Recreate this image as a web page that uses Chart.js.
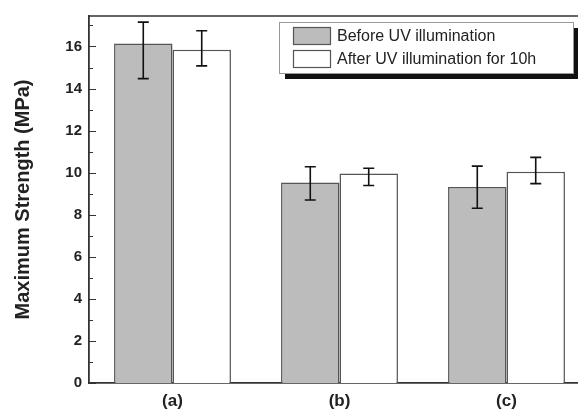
<!DOCTYPE html>
<html><head><meta charset="utf-8">
<script src="https://cdn.jsdelivr.net/npm/chart.js@4"></script>
<style>html,body{margin:0;padding:0;overflow:hidden;background:#fff}#wrap{width:578px;height:412px;overflow:hidden}</style>
</head><body><div id="wrap"><canvas id="c" width="600" height="412" style="width:600px;height:412px"></canvas></div>
<script>
const categories = ['(a)', '(b)', '(c)'];
const seriesNames = ['Before UV illumination', 'After UV illumination for 10h'];
const beforeUV = [16.14, 9.53, 9.32];
const afterUV = [15.85, 9.96, 10.04];
const beforeErrHigh = [17.16, 10.28, 10.31];
const beforeErrLow = [14.47, 8.70, 8.31];
const afterErrHigh = [16.75, 10.21, 10.73];
const afterErrLow = [15.08, 9.39, 9.48];
const yTickValues = [0, 2, 4, 6, 8, 10, 12, 14, 16];
const yMinorValues = [1, 3, 5, 7, 9, 11, 13, 15, 17];
const yTitle = 'Maximum Strength (MPa)';

const FONT = '"Liberation Sans", Arial, sans-serif';
const errHigh = [beforeErrHigh, afterErrHigh];
const errLow = [beforeErrLow, afterErrLow];

const framePlugin = {
  id: 'frame',
  afterDraw(chart) {
    const ctx = chart.ctx, a = chart.chartArea, y = chart.scales.y;
    ctx.save();
    ctx.strokeStyle = '#333';
    ctx.lineWidth = 1.5;
    ctx.beginPath();
    ctx.moveTo(a.left, a.top); ctx.lineTo(a.right, a.top);
    ctx.lineTo(a.right, a.bottom);
    ctx.stroke();
    ctx.lineWidth = 1.2;
    ctx.beginPath();
    yTickValues.forEach(v => { const p = Math.round(y.getPixelForValue(v)) + 0.5; ctx.moveTo(a.left, p); ctx.lineTo(a.left + 7, p); });
    yMinorValues.forEach(v => { const p = Math.round(y.getPixelForValue(v)) + 0.5; ctx.moveTo(a.left, p); ctx.lineTo(a.left + 4, p); });
    ctx.stroke();
    ctx.restore();
  }
};

const errorPlugin = {
  id: 'errorbars',
  afterDatasetsDraw(chart) {
    const ctx = chart.ctx, y = chart.scales.y;
    ctx.save();
    ctx.strokeStyle = '#111';
    ctx.lineWidth = 1.6;
    chart.data.datasets.forEach((ds, i) => {
      const meta = chart.getDatasetMeta(i);
      meta.data.forEach((bar, j) => {
        const x = bar.x;
        const yh = y.getPixelForValue(errHigh[i][j]);
        const yl = y.getPixelForValue(errLow[i][j]);
        ctx.beginPath();
        ctx.moveTo(x, yh); ctx.lineTo(x, yl);
        ctx.moveTo(x - 5.5, yh); ctx.lineTo(x + 5.5, yh);
        ctx.moveTo(x - 5.5, yl); ctx.lineTo(x + 5.5, yl);
        ctx.stroke();
      });
    });
    ctx.restore();
  }
};

const legendPlugin = {
  id: 'boxlegend',
  afterDraw(chart) {
    const ctx = chart.ctx;
    const bx = 279, by = 22, bw = 294, bh = 51;
    ctx.save();
    ctx.fillStyle = '#111';
    ctx.fillRect(bx + 6, by + 6, bw, bh);
    ctx.fillStyle = '#fff';
    ctx.fillRect(bx, by, bw, bh);
    ctx.strokeStyle = '#999';
    ctx.lineWidth = 1;
    ctx.strokeRect(bx + 0.5, by + 0.5, bw, bh);
    ctx.font = '16px ' + FONT;
    ctx.textBaseline = 'middle';
    chart.data.datasets.forEach((ds, i) => {
      const sy = 27 + i * 23;
      ctx.fillStyle = ds.backgroundColor;
      ctx.fillRect(293, sy, 38, 18);
      ctx.strokeStyle = '#555';
      ctx.lineWidth = 1.2;
      ctx.strokeRect(293.5, sy + 0.5, 37, 17);
      ctx.fillStyle = '#222';
      ctx.fillText(ds.label, 337, sy + 10);
    });
    ctx.restore();
  }
};

new Chart(document.getElementById('c'), {
  type: 'bar',
  data: {
    labels: categories,
    datasets: [
      { label: seriesNames[0], data: beforeUV, backgroundColor: '#bcbcbc', borderColor: '#555', borderWidth: 1.5 },
      { label: seriesNames[1], data: afterUV, backgroundColor: '#ffffff', borderColor: '#555', borderWidth: 1.5 }
    ]
  },
  options: {
    responsive: false,
    devicePixelRatio: 1,
    animation: false,
    layout: { padding: { top: 11, right: 10, left: 0, bottom: 0 } },
    datasets: { bar: { categoryPercentage: 0.7, barPercentage: 1.0 } },
    plugins: { legend: { display: false }, tooltip: { enabled: false } },
    scales: {
      x: {
        grid: { display: false, drawTicks: false },
        border: { display: true, color: '#333', width: 1.8 },
        ticks: { color: '#222', font: { family: FONT, size: 17, weight: 'bold' }, padding: 8 },
        afterFit(s) { s.height = 29; }
      },
      y: {
        min: 0, max: 17.45,
        grid: { display: false, drawTicks: false },
        border: { display: true, color: '#333', width: 1.8 },
        afterBuildTicks(s) { s.ticks = yTickValues.map(v => ({ value: v })); },
        ticks: { color: '#222', font: { family: FONT, size: 15, weight: 'bold' }, padding: 7 },
        title: { display: true, text: yTitle, color: '#222', font: { family: FONT, size: 20, weight: 'bold' }, padding: { top: 11, bottom: 0 } },
        afterFit(s) { s.width = 89; }
      }
    }
  },
  plugins: [framePlugin, errorPlugin, legendPlugin]
});
</script>
</body></html>
